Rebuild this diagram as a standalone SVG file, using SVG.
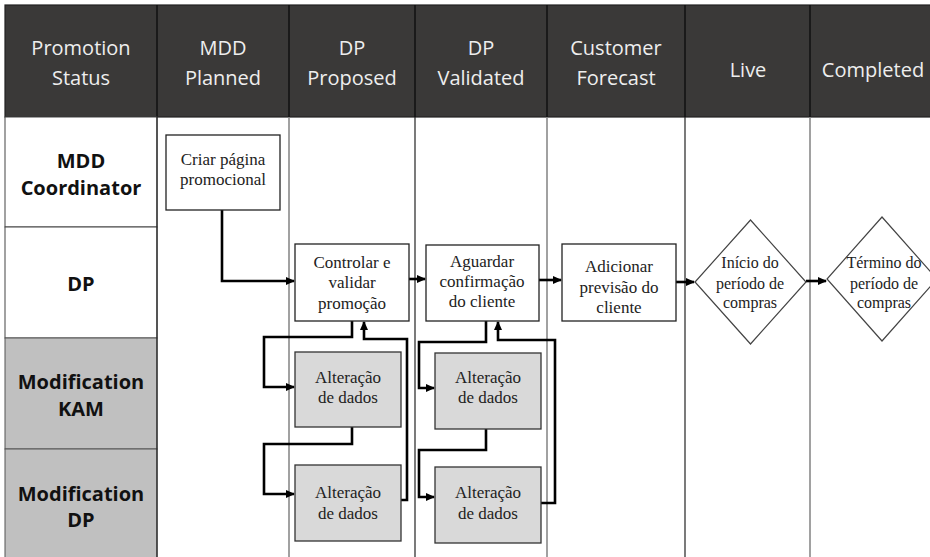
<svg xmlns="http://www.w3.org/2000/svg" width="930" height="557" viewBox="0 0 930 557">
<style>
.hdr{font-family:"Open Sans","Liberation Sans",sans-serif;font-size:20px;fill:#eeeeee;text-anchor:middle}
.lane{font-family:"Open Sans","Liberation Sans",sans-serif;font-size:20px;font-weight:bold;fill:#111;text-anchor:middle}
.t{font-family:"Liberation Serif","Times New Roman",serif;font-size:17px;fill:#222;text-anchor:middle}
.td{font-family:"Liberation Serif","Times New Roman",serif;font-size:16px;fill:#222;text-anchor:middle}
.box{fill:#fff;stroke:#222;stroke-width:1.3}
.gbox{fill:#d9d9d9;stroke:#333;stroke-width:1.3}
.dia{fill:#fff;stroke:#444;stroke-width:1.2}
.c{fill:none;stroke:#000;stroke-width:2.6}
.vl{stroke:#222;stroke-width:1.2}
.vg{stroke:#8a8a8a;stroke-width:1.6}
</style>
<defs>
<marker id="ah" markerWidth="9" markerHeight="8" refX="8" refY="4" orient="auto" markerUnits="userSpaceOnUse">
<path d="M0,0 L9,4 L0,8 z" fill="#000"/>
</marker>
</defs>
<rect width="930" height="557" fill="#fff"/>
<g id="header">
<rect x="5" y="5" width="930" height="112" fill="#3a3938" stroke="#222" stroke-width="1.2"/>
<g stroke="#111" stroke-width="1.5">
<line x1="157" y1="5" x2="157" y2="117"/>
<line x1="289" y1="5" x2="289" y2="117"/>
<line x1="415" y1="5" x2="415" y2="117"/>
<line x1="547" y1="5" x2="547" y2="117"/>
<line x1="685" y1="5" x2="685" y2="117"/>
<line x1="810" y1="5" x2="810" y2="117"/>
</g>
<text class="hdr" x="81" y="55">Promotion</text><text class="hdr" x="81" y="85">Status</text>
<text class="hdr" x="223" y="55">MDD</text><text class="hdr" x="223" y="85">Planned</text>
<text class="hdr" x="352" y="55">DP</text><text class="hdr" x="352" y="85">Proposed</text>
<text class="hdr" x="481" y="55">DP</text><text class="hdr" x="481" y="85">Validated</text>
<text class="hdr" x="616" y="55">Customer</text><text class="hdr" x="616" y="85">Forecast</text>
<text class="hdr" x="748" y="77">Live</text>
<text class="hdr" x="873" y="77">Completed</text>
</g>
<g id="lanes">
<rect x="5" y="117" width="152" height="110" fill="#fff" stroke="#444" stroke-width="1"/>
<rect x="5" y="227" width="152" height="111" fill="#fff" stroke="#444" stroke-width="1"/>
<rect x="5" y="338" width="152" height="111" fill="#c0c0c0" stroke="#555" stroke-width="1"/>
<rect x="5" y="449" width="152" height="110" fill="#c0c0c0" stroke="#555" stroke-width="1"/>
<text class="lane" x="81" y="168">MDD</text><text class="lane" x="81" y="195">Coordinator</text>
<text class="lane" x="81" y="291">DP</text>
<text class="lane" x="81" y="389">Modification</text><text class="lane" x="81" y="416">KAM</text>
<text class="lane" x="81" y="501">Modification</text><text class="lane" x="81" y="527">DP</text>
<line class="vl" x1="157" y1="117" x2="157" y2="557"/>
<line class="vg" x1="289" y1="117" x2="289" y2="557"/>
<line class="vl" x1="415" y1="117" x2="415" y2="557"/>
<line class="vg" x1="547" y1="117" x2="547" y2="557"/>
<line class="vl" x1="685" y1="117" x2="685" y2="557"/>
<line class="vg" x1="810" y1="117" x2="810" y2="557"/>
</g>
<g id="connectors">
<path class="c" d="M222,210 V281 H294" marker-end="url(#ah)"/>
<path class="c" d="M409,279 H425" marker-end="url(#ah)"/>
<path class="c" d="M539,280 H561" marker-end="url(#ah)"/>
<path class="c" d="M676,282 H694" marker-end="url(#ah)"/>
<path class="c" d="M806,281 H826" marker-end="url(#ah)"/>
<path class="c" d="M352,321 V337 H264 V387 H294" marker-end="url(#ah)"/>
<path class="c" d="M352,427 V444 H264 V494 H294" marker-end="url(#ah)"/>
<path class="c" d="M401,500 H407 V339 H364 V322" marker-end="url(#ah)"/>
<path class="c" d="M486,321 V342 H419 V388 H434" marker-end="url(#ah)"/>
<path class="c" d="M486,429 V450 H419 V497 H434" marker-end="url(#ah)"/>
<path class="c" d="M541,503 H555 V340 H498 V322" marker-end="url(#ah)"/>
</g>
<g id="n-criar">
<rect class="box" x="166" y="135" width="114" height="75"/>
<text class="t" x="223" y="165">Criar página</text><text class="t" x="223" y="185">promocional</text>
</g>
<g id="n-controlar">
<rect class="box" x="295" y="244" width="114" height="77"/>
<text class="t" x="352" y="268">Controlar e</text><text class="t" x="352" y="288">validar</text><text class="t" x="352" y="309">promoção</text>
</g>
<g id="n-aguardar">
<rect class="box" x="426" y="245" width="113" height="76"/>
<text class="t" x="482" y="267">Aguardar</text><text class="t" x="482" y="287">confirmação</text><text class="t" x="482" y="307">do cliente</text>
</g>
<g id="n-adicionar">
<rect class="box" x="562" y="244" width="114" height="77"/>
<text class="t" x="619" y="272">Adicionar</text><text class="t" x="619" y="293">previsão do</text><text class="t" x="619" y="313">cliente</text>
</g>
<g id="n-inicio">
<path class="dia" d="M750.5,220 L806,282 L750.5,344 L695,282 Z"/>
<text class="td" x="750" y="268">Início do</text><text class="td" x="750" y="289">período de</text><text class="td" x="750" y="308">compras</text>
</g>
<g id="n-termino">
<path class="dia" d="M882,217 L937,279 L882,341 L827,279 Z"/>
<text class="td" x="884" y="268">Término do</text><text class="td" x="884" y="289">período de</text><text class="td" x="884" y="308">compras</text>
</g>
<g id="n-alt-kam-1">
<rect class="gbox" x="295" y="352" width="106" height="75"/>
<text class="t" x="348" y="383">Alteração</text><text class="t" x="348" y="403">de dados</text>
</g>
<g id="n-alt-dp-1">
<rect class="gbox" x="295" y="465" width="106" height="76"/>
<text class="t" x="348" y="498">Alteração</text><text class="t" x="348" y="519">de dados</text>
</g>
<g id="n-alt-kam-2">
<rect class="gbox" x="435" y="353" width="106" height="76"/>
<text class="t" x="488" y="383">Alteração</text><text class="t" x="488" y="403">de dados</text>
</g>
<g id="n-alt-dp-2">
<rect class="gbox" x="435" y="467" width="106" height="76"/>
<text class="t" x="488" y="498">Alteração</text><text class="t" x="488" y="519">de dados</text>
</g>
</svg>
